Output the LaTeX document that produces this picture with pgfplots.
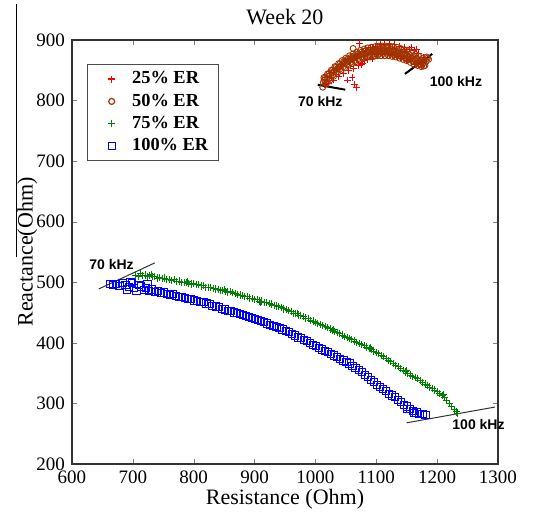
\documentclass[border=0pt]{standalone}
\usepackage{pgfplots}
\pgfplotsset{compat=1.18}
\usepackage{fontspec}
\setmainfont{Liberation Serif}
\newfontfamily\labelfont{Liberation Sans}
\definecolor{erred}{RGB}{255,0,0}
\definecolor{erbrown}{RGB}{160,50,0}
\definecolor{ergreen}{RGB}{0,128,0}
\definecolor{erblue}{RGB}{0,0,255}

\begin{document}
\begin{tikzpicture}
\begin{axis}[
    name=ax,
    scale only axis,
    width=213pt, height=212pt,
    xmin=600, xmax=1300, ymin=200, ymax=900,
    xtick={600,700,...,1300}, ytick={200,300,...,900},
    xticklabels={600,700,800,900,1000,1100,1200,1300},
    yticklabels={200,300,400,500,600,700,800,900},
    tick align=inside, major tick length=2.5pt,
    tick label style={font=\fontsize{9.5}{10}\selectfont},
    title={Week 20},
    title style={font=\fontsize{11}{12}\selectfont, yshift=-2pt},
    xlabel={Resistance (Ohm)}, ylabel={Reactance(Ohm)},
    label style={font=\fontsize{11}{12}\selectfont},
    xlabel style={at={(rel axis cs:0.5,0)}, anchor=base, yshift=-20.5pt},
    ylabel style={at={(axis description cs:-0.105,0.5)}, anchor=center},
    axis line style={black!80, line width=0.6pt},
    clip=false,
    legend style={at={(0.035,0.943)}, anchor=north west, draw=black!70,
        font=\bfseries\fontsize{9.2}{10}\selectfont, inner xsep=3pt, inner ysep=1.5pt,
        row sep=-0.5pt},
    legend cell align=left,
]
% 25% ER
\addplot[only marks, mark=+, color=erred, mark size=1.7pt, line width=0.4pt, forget plot] coordinates {
(1022,828) (1030,834) (1038,840) (1046,845) (1054,849) (1062,853) (1070,858) (1078,862)
(1086,868) (1094,870) (1018,838) (1026,845) (1034,853) (1042,860) (1050,866) (1058,870)
(1066,874) (1074,877) (1082,886) (1090,888) (1098,890) (1106,892) (1114,893) (1122,893)
(1130,892) (1138,890) (1146,888) (1154,885) (1162,882) (1170,878) (1178,872) (1102,876)
(1110,876) (1118,876) (1126,875) (1134,873) (1142,870) (1150,867) (1158,864) (1166,860)
(1174,857) (1073,894) (1064,826) (1068,821) (1053,834) (1060,838) (1157,887) (1166,885)
(1014,826) (1080,866) (1076,860)
};
% 50% ER
\addplot[only marks, mark=o, color=erbrown, mark size=1.5pt, line width=0.45pt, forget plot] coordinates {
(1012,822) (1013,830) (1014,838) (1018,828) (1019,836) (1020,844) (1024,834) (1025,842)
(1026,850) (1030,840) (1031,848) (1032,856) (1036,845) (1037,853) (1038,861) (1042,850)
(1043,858) (1044,866) (1048,854) (1049,862) (1050,870) (1054,858) (1055,866) (1056,874)
(1060,861) (1061,869) (1062,877) (1066,864) (1067,872) (1068,880) (1072,867) (1073,875)
(1074,883) (1078,869) (1079,877) (1080,885) (1084,871) (1085,879) (1086,887) (1090,872)
(1091,880) (1092,888) (1096,873) (1097,881) (1098,889) (1102,874) (1103,882) (1104,890)
(1108,874) (1109,882) (1110,890) (1114,874) (1115,882) (1116,890) (1120,874) (1121,882)
(1122,890) (1126,873) (1127,881) (1128,889) (1132,872) (1133,880) (1134,888) (1138,870)
(1139,878) (1140,886) (1144,868) (1145,876) (1146,884) (1150,866) (1151,874) (1152,882)
(1156,863) (1157,871) (1158,879) (1162,860) (1163,868) (1164,876) (1168,858) (1169,865)
(1170,873) (1174,856) (1175,863) (1176,870) (1180,858) (1182,865) (1184,870)
(1015,834) (1021,840) (1027,846) (1033,851) (1039,856) (1045,861) (1051,865) (1057,868)
(1063,871) (1069,874) (1075,876) (1081,878) (1087,880) (1093,881) (1099,882) (1105,882)
(1111,882) (1117,882) (1123,882) (1129,881) (1135,879) (1141,877) (1147,875) (1153,872)
(1159,869) (1165,866) (1171,864) (1177,862)
(1016,829) (1016,837) (1022,836) (1022,844) (1028,842) (1028,850) (1034,847) (1034,855)
(1040,852) (1040,860) (1046,856) (1046,864) (1052,860) (1052,868) (1058,863) (1058,871)
(1064,866) (1064,874) (1070,869) (1070,877) (1076,872) (1076,880) (1082,874) (1082,882)
(1088,875) (1088,883) (1094,876) (1094,884) (1100,877) (1100,885) (1106,878) (1106,886)
(1112,878) (1112,886) (1118,878) (1118,886) (1124,877) (1124,885) (1130,876) (1130,884)
(1136,874) (1136,882) (1142,872) (1142,880) (1148,870) (1148,878) (1154,868) (1154,876)
(1160,865) (1160,873) (1166,862) (1166,870) (1172,859) (1172,867) (1178,857) (1178,865)
(1062,886) (1183,872) (1186,868)
};
% 75% ER
\addplot[only marks, mark=+, color=ergreen, mark size=1.8pt, line width=0.45pt, forget plot] coordinates {
(705,512) (709,510) (712,514) (716,511) (720,512) (724,509) (728,511) (732,509)
(736,510) (740,507) (744,508) (748,506) (752,507) (756,504) (760,505) (764,503)
(768,504) (772,501) (776,502) (780,500) (784,499) (788,500) (792,498) (796,497)
(800,498) (804,496) (808,496) (812,494) (816,495) (820,492) (824,492) (828,491)
(832,490) (836,489) (840,488) (844,487) (848,487) (852,485) (856,484) (860,485)
(864,483) (868,481) (872,480) (876,479) (880,478) (884,477) (888,476) (892,474)
(896,473) (900,472) (904,471) (908,469) (912,469) (916,467) (920,466) (924,465)
(928,464) (932,462) (936,461) (940,460) (944,458) (948,456) (952,455) (956,453)
(960,452) (964,449) (968,448) (972,446) (976,445) (980,443) (984,441) (988,440)
(992,437) (996,436) (1000,434) (1004,432) (1008,430) (1012,429) (1016,427) (1020,425)
(1024,423) (1028,421) (1032,419) (1036,417) (1040,415) (1044,413) (1048,411) (1052,409)
(1056,407) (1060,405) (1064,403) (1068,401) (1072,399) (1076,397) (1080,395) (1084,393)
(1088,391) (1092,389) (1096,386) (1100,384) (1104,382) (1108,379) (1112,377) (1116,374)
(1120,371) (1124,369) (1128,366) (1132,363) (1136,361) (1140,358) (1144,355) (1148,352)
(1152,350) (1156,347) (1160,345) (1164,343) (1168,341) (1172,338) (1176,335) (1180,332)
(1184,330) (1188,327) (1192,324) (1196,322) (1200,319) (1204,316) (1208,313) (1212,310)
(1216,305) (1220,300) (1224,295) (1228,290) (1232,286) (1234,284)
(730,513) (790,501) (850,488) (910,466) (970,449) (1030,422) (1090,392) (1150,354) (1210,315)
};
% 100% ER
\addplot[only marks, mark=square, color=erblue, mark size=1.8pt, line width=0.5pt, forget plot] coordinates {
(662,497) (667,495) (672,497) (678,494) (683,499) (688,496) (690,488) (694,492)
(698,499) (702,490) (706,486) (710,496) (714,493) (718,487) (722,491) (727,485)
(731,488) (736,484) (741,485) (746,482) (751,483) (756,481) (761,479) (766,480)
(771,477) (776,476) (781,476) (786,474) (791,473) (796,472) (801,470) (806,469)
(811,468) (816,467) (821,465) (826,464) (831,461) (836,460) (841,459) (846,456)
(851,455) (856,453) (861,452) (866,450) (871,449) (876,447) (881,446) (886,444)
(891,443) (896,441) (901,440) (906,438) (911,436) (916,434) (921,432) (926,430)
(931,428) (936,426) (941,424) (946,422) (951,419) (956,418) (961,414) (966,412)
(971,409) (976,408) (981,405) (986,403) (991,400) (996,397) (1001,395) (1006,392)
(1011,389) (1016,387) (1021,385) (1026,381) (1031,379) (1036,376) (1041,373) (1046,371)
(1051,368) (1056,366) (1061,362) (1066,358) (1071,355) (1076,352) (1081,347) (1086,343)
(1091,339) (1096,335) (1101,331) (1106,327) (1111,324) (1116,321) (1121,316) (1126,313)
(1131,310) (1136,306) (1141,302) (1146,298) (1151,295) (1156,291) (1161,288) (1166,285)
(1171,283) (1176,282) (1181,281) (696,500) (724,497) (1150,291) (1162,284)
};

% legend images
\addlegendimage{legend image code/.code={\path (0pt,0pt) (17pt,0pt);
    \draw[erred, line width=0.7pt] (7.2pt,0pt) -- (10.8pt,0pt) (9pt,-1.8pt) -- (9pt,1.8pt);}}
\addlegendimage{legend image code/.code={\path (0pt,0pt) (17pt,0pt);
    \draw[erbrown, line width=0.6pt] (9pt,0pt) circle[radius=1.5pt];}}
\addlegendimage{legend image code/.code={\path (0pt,0pt) (17pt,0pt);
    \draw[ergreen, line width=0.7pt] (7.2pt,0pt) -- (10.8pt,0pt) (9pt,-1.8pt) -- (9pt,1.8pt);}}
\addlegendimage{legend image code/.code={\path (0pt,0pt) (17pt,0pt);
    \draw[erblue, line width=0.6pt] (7.3pt,-1.7pt) rectangle (10.7pt,1.7pt);}}
\legend{25\% ER, 50\% ER, 75\% ER, 100\% ER}

% frequency markers
\addplot[black, line width=1pt, forget plot] coordinates {(1004,826) (1049,818)};
\addplot[black, line width=1pt, forget plot] coordinates {(1147,844) (1192,877)};
\addplot[black!80, line width=0.5pt, forget plot] coordinates {(644,489) (736,532)};
\addplot[black!80, line width=0.5pt, forget plot] coordinates {(1150,268) (1295,294)};
\node[font=\labelfont\bfseries\fontsize{7}{8}\selectfont] at (axis cs:1008,798) {70 kHz};
\node[font=\labelfont\bfseries\fontsize{7}{8}\selectfont] at (axis cs:1231,831) {100 kHz};
\node[font=\labelfont\bfseries\fontsize{7}{8}\selectfont] at (axis cs:665,530) {70 kHz};
\node[font=\labelfont\bfseries\fontsize{7}{8}\selectfont] at (axis cs:1268,265) {100 kHz};

\draw[black, line width=0.5pt] (axis cs:508,960) -- (axis cs:508,541);
\coordinate (O) at (rel axis cs:0,0);
\end{axis}
\path (O) ++(-36pt,-23.5pt) rectangle ++(276pt,255.5pt);
\end{tikzpicture}
\end{document}
